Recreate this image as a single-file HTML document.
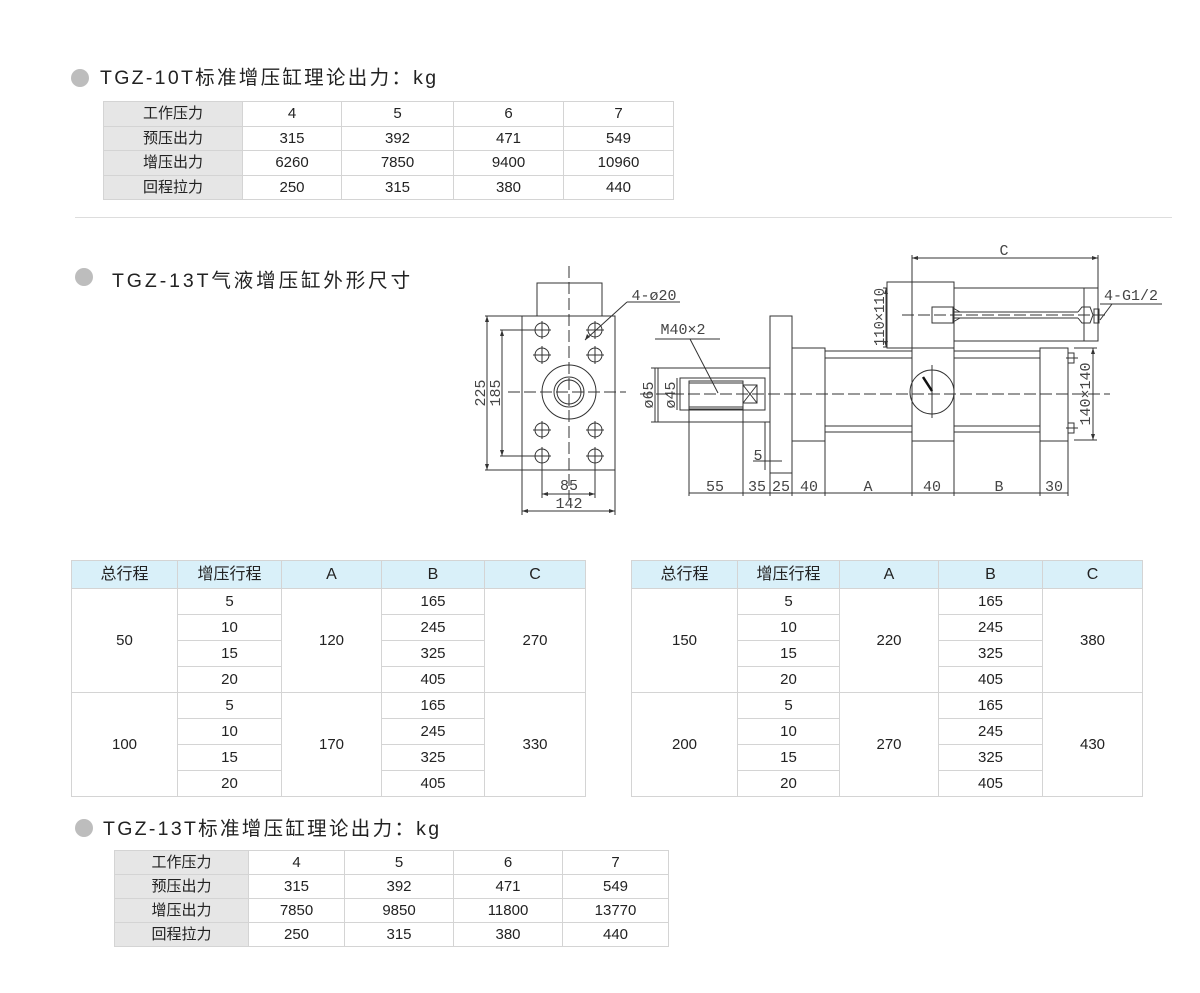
<!DOCTYPE html>
<html><head><meta charset="utf-8"><style>
html,body{margin:0;padding:0;background:#fff;}
body{width:1200px;height:993px;position:relative;overflow:hidden;font-family:"Liberation Sans","Noto Sans CJK SC",sans-serif;color:#222;}
.dot{position:absolute;width:18px;height:18px;border-radius:50%;background:#bdbdbd;}
.ttl{position:absolute;font-size:19.5px;letter-spacing:2.3px;white-space:nowrap;line-height:20px;}
table{position:absolute;border-collapse:collapse;table-layout:fixed;font-size:15px;}
td{border:1px solid #d4d4d4;text-align:center;padding:0;line-height:1;}
.g{background:#e6e6e6;}
.h td{background:#d9f0f9;font-size:16px;}
</style></head><body>

<div class="dot" style="left:71px;top:69px"></div>
<div class="ttl" style="left:100px;top:68px">TGZ-10T标准增压缸理论出力：kg</div>
<table style="left:103px;top:101px;width:570px">
<colgroup><col style="width:139px"><col style="width:99px"><col style="width:112px"><col style="width:110px"><col style="width:110px"></colgroup>
<tr style="height:24.5px"><td class="g">工作压力</td><td>4</td><td>5</td><td>6</td><td>7</td></tr>
<tr style="height:24.5px"><td class="g">预压出力</td><td>315</td><td>392</td><td>471</td><td>549</td></tr>
<tr style="height:24.5px"><td class="g">增压出力</td><td>6260</td><td>7850</td><td>9400</td><td>10960</td></tr>
<tr style="height:24.5px"><td class="g">回程拉力</td><td>250</td><td>315</td><td>380</td><td>440</td></tr>
</table>

<div style="position:absolute;left:75px;top:217px;width:1097px;height:1px;background:#ddd"></div>

<div class="dot" style="left:75px;top:268px"></div>
<div class="ttl" style="left:112px;top:271px;letter-spacing:2.9px">TGZ-13T气液增压缸外形尺寸</div>

<svg style="position:absolute;left:0;top:0" width="1200" height="993" viewBox="0 0 1200 993">
<g fill="none" stroke="#333" stroke-width="1">
<rect x="537" y="283" width="65" height="33"/>
<rect x="522" y="316" width="93" height="154"/>
<circle cx="569" cy="392" r="27"/>
<circle cx="569" cy="392" r="15"/>
<circle cx="569" cy="392" r="12"/>
<g stroke-dasharray="12 4">
<line x1="569" y1="266" x2="569" y2="500"/>
<line x1="508" y1="392" x2="626" y2="392"/>
<line x1="640" y1="394" x2="1110" y2="394"/>
<line x1="902" y1="315" x2="1105" y2="315"/>
</g>
<g id="h">
<circle cx="542" cy="330" r="7"/><line x1="533" y1="330" x2="551" y2="330"/><line x1="542" y1="321" x2="542" y2="339"/>
</g>
<use href="#h" x="53"/><use href="#h" y="25"/><use href="#h" x="53" y="25"/>
<use href="#h" y="100"/><use href="#h" x="53" y="100"/><use href="#h" y="126"/><use href="#h" x="53" y="126"/>
<line x1="485" y1="316" x2="522" y2="316"/><line x1="485" y1="470" x2="522" y2="470"/>
<line x1="487" y1="316" x2="487" y2="470"/>
<line x1="500" y1="330" x2="535" y2="330"/><line x1="500" y1="456" x2="535" y2="456"/>
<line x1="502" y1="330" x2="502" y2="456"/>
<line x1="542" y1="463" x2="542" y2="498"/><line x1="595" y1="463" x2="595" y2="498"/>
<line x1="542" y1="494" x2="595" y2="494"/>
<line x1="522" y1="470" x2="522" y2="515"/><line x1="615" y1="470" x2="615" y2="515"/>
<line x1="522" y1="511" x2="615" y2="511"/>
<line x1="585" y1="340" x2="627" y2="302"/><line x1="627" y1="302" x2="680" y2="302"/>
<rect x="658" y="368" width="112" height="54"/>
<rect x="680" y="378" width="85" height="32"/>
<rect x="689" y="381" width="54" height="28"/>
<line x1="689" y1="383" x2="743" y2="383"/><line x1="689" y1="407" x2="743" y2="407"/>
<rect x="743" y="385" width="14" height="18"/><line x1="743" y1="385" x2="757" y2="403"/><line x1="743" y1="403" x2="757" y2="385"/>
<line x1="651" y1="368" x2="658" y2="368"/><line x1="651" y1="422" x2="658" y2="422"/>
<line x1="655" y1="368" x2="655" y2="422"/><line x1="677" y1="378" x2="677" y2="410"/>
<line x1="655" y1="339" x2="720" y2="339"/><line x1="690" y1="339" x2="718" y2="393"/>
<rect x="770" y="316" width="22" height="157"/>
<rect x="792" y="348" width="33" height="93"/>
<line x1="825" y1="351" x2="912" y2="351"/><line x1="825" y1="358" x2="912" y2="358"/>
<line x1="825" y1="426" x2="912" y2="426"/><line x1="825" y1="432" x2="912" y2="432"/>
<rect x="912" y="348" width="42" height="93"/>
<rect x="887" y="282" width="67" height="66"/>
<circle cx="932" cy="392" r="22"/>
<line x1="932" y1="365" x2="932" y2="418"/>
<line x1="954" y1="351" x2="1040" y2="351"/><line x1="954" y1="358" x2="1040" y2="358"/>
<line x1="954" y1="426" x2="1040" y2="426"/><line x1="954" y1="432" x2="1040" y2="432"/>
<rect x="1040" y="348" width="28" height="93"/>
<rect x="1068" y="353" width="6" height="10"/><rect x="1068" y="423" width="6" height="10"/>
<line x1="1066" y1="358" x2="1078" y2="358"/><line x1="1066" y1="428" x2="1078" y2="428"/>
<rect x="954" y="288" width="144" height="53"/>
<line x1="1084" y1="288" x2="1084" y2="341"/>
<rect x="932" y="307" width="21" height="16"/>
<line x1="953" y1="312" x2="1078" y2="312"/><line x1="953" y1="318" x2="1078" y2="318"/>
<path d="M953 308 L960 312 M953 322 L960 318 M1078 312 L1082 307 L1090 307 L1093 315 L1090 323 L1082 323 L1078 318"/>
<rect x="1094" y="309" width="5" height="14"/>
<line x1="1100" y1="320" x2="1112" y2="304"/><line x1="1100" y1="304" x2="1162" y2="304"/>
<line x1="912" y1="255" x2="912" y2="348"/><line x1="1098" y1="255" x2="1098" y2="288"/>
<line x1="912" y1="258" x2="1098" y2="258"/>
<line x1="883" y1="288" x2="887" y2="288"/><line x1="883" y1="347" x2="887" y2="347"/>
<line x1="886" y1="288" x2="886" y2="347"/>
<line x1="1074" y1="348" x2="1097" y2="348"/><line x1="1074" y1="440" x2="1097" y2="440"/>
<line x1="1093" y1="348" x2="1093" y2="440"/>
<line x1="689" y1="409" x2="689" y2="496"/><line x1="743" y1="409" x2="743" y2="496"/>
<line x1="770" y1="473" x2="770" y2="496"/><line x1="792" y1="473" x2="792" y2="496"/>
<line x1="825" y1="441" x2="825" y2="496"/><line x1="912" y1="441" x2="912" y2="496"/>
<line x1="954" y1="441" x2="954" y2="496"/><line x1="1040" y1="441" x2="1040" y2="496"/>
<line x1="1068" y1="441" x2="1068" y2="496"/>
<line x1="689" y1="493" x2="1068" y2="493"/>
<line x1="753" y1="461" x2="782" y2="461"/><line x1="765" y1="422" x2="765" y2="470"/>
</g>
<line x1="923" y1="377" x2="932" y2="391" stroke="#111" stroke-width="2.5"/>
<g fill="#333">
<path d="M487 316 l-2 6 h4z M487 470 l-2 -6 h4z M502 330 l-2 6 h4z M502 456 l-2 -6 h4z M542 494 l6 -2 v4z M595 494 l-6 -2 v4z M522 511 l6 -2 v4z M615 511 l-6 -2 v4z M912 258 l6 -2 v4z M1098 258 l-6 -2 v4z M886 288 l-2 6 h4z M886 347 l-2 -6 h4z M1093 348 l-2 6 h4z M1093 440 l-2 -6 h4z M585 340 l2 -6 3 3z"/>
</g>
<g font-family="Liberation Mono, DejaVu Sans Mono, monospace" font-size="15" fill="#444" text-anchor="middle">
<text x="654" y="300">4-ø20</text>
<text x="683" y="334">M40×2</text>
<text x="1131" y="300">4-G1/2</text>
<text x="1004" y="255">C</text>
<text x="715" y="491">55</text><text x="757" y="491">35</text><text x="781" y="491">25</text>
<text x="809" y="491">40</text><text x="868" y="491">A</text><text x="932" y="491">40</text>
<text x="999" y="491">B</text><text x="1054" y="491">30</text>
<text x="569" y="490">85</text><text x="569" y="508">142</text>
<text x="758" y="460">5</text>
<text transform="translate(485,393) rotate(-90)">225</text>
<text transform="translate(500,393) rotate(-90)">185</text>
<text transform="translate(653,395) rotate(-90)">ø65</text>
<text transform="translate(675,395) rotate(-90)">ø45</text>
<text transform="translate(884,317) rotate(-90)" textLength="58" lengthAdjust="spacingAndGlyphs">110×110</text>
<text transform="translate(1090,394) rotate(-90)">140×140</text>
</g>
</svg>

<table style="left:71px;top:560px;width:512px">
<colgroup><col style="width:106px"><col style="width:104px"><col style="width:100px"><col style="width:103px"><col style="width:101px"></colgroup>
<tr class="h" style="height:28px"><td>总行程</td><td>增压行程</td><td>A</td><td>B</td><td>C</td></tr>
<tr style="height:26px"><td rowspan="4">50</td><td>5</td><td rowspan="4">120</td><td>165</td><td rowspan="4">270</td></tr>
<tr style="height:26px"><td>10</td><td>245</td></tr>
<tr style="height:26px"><td>15</td><td>325</td></tr>
<tr style="height:26px"><td>20</td><td>405</td></tr>
<tr style="height:26px"><td rowspan="4">100</td><td>5</td><td rowspan="4">170</td><td>165</td><td rowspan="4">330</td></tr>
<tr style="height:26px"><td>10</td><td>245</td></tr>
<tr style="height:26px"><td>15</td><td>325</td></tr>
<tr style="height:26px"><td>20</td><td>405</td></tr>
</table>

<table style="left:631px;top:560px;width:511px">
<colgroup><col style="width:106px"><col style="width:102px"><col style="width:99px"><col style="width:104px"><col style="width:100px"></colgroup>
<tr class="h" style="height:28px"><td>总行程</td><td>增压行程</td><td>A</td><td>B</td><td>C</td></tr>
<tr style="height:26px"><td rowspan="4">150</td><td>5</td><td rowspan="4">220</td><td>165</td><td rowspan="4">380</td></tr>
<tr style="height:26px"><td>10</td><td>245</td></tr>
<tr style="height:26px"><td>15</td><td>325</td></tr>
<tr style="height:26px"><td>20</td><td>405</td></tr>
<tr style="height:26px"><td rowspan="4">200</td><td>5</td><td rowspan="4">270</td><td>165</td><td rowspan="4">430</td></tr>
<tr style="height:26px"><td>10</td><td>245</td></tr>
<tr style="height:26px"><td>15</td><td>325</td></tr>
<tr style="height:26px"><td>20</td><td>405</td></tr>
</table>

<div class="dot" style="left:75px;top:819px"></div>
<div class="ttl" style="left:103px;top:819px">TGZ-13T标准增压缸理论出力：kg</div>
<table style="left:114px;top:850px;width:554px">
<colgroup><col style="width:134px"><col style="width:96px"><col style="width:109px"><col style="width:109px"><col style="width:106px"></colgroup>
<tr style="height:24px"><td class="g">工作压力</td><td>4</td><td>5</td><td>6</td><td>7</td></tr>
<tr style="height:24px"><td class="g">预压出力</td><td>315</td><td>392</td><td>471</td><td>549</td></tr>
<tr style="height:24px"><td class="g">增压出力</td><td>7850</td><td>9850</td><td>11800</td><td>13770</td></tr>
<tr style="height:24px"><td class="g">回程拉力</td><td>250</td><td>315</td><td>380</td><td>440</td></tr>
</table>
</body></html>
